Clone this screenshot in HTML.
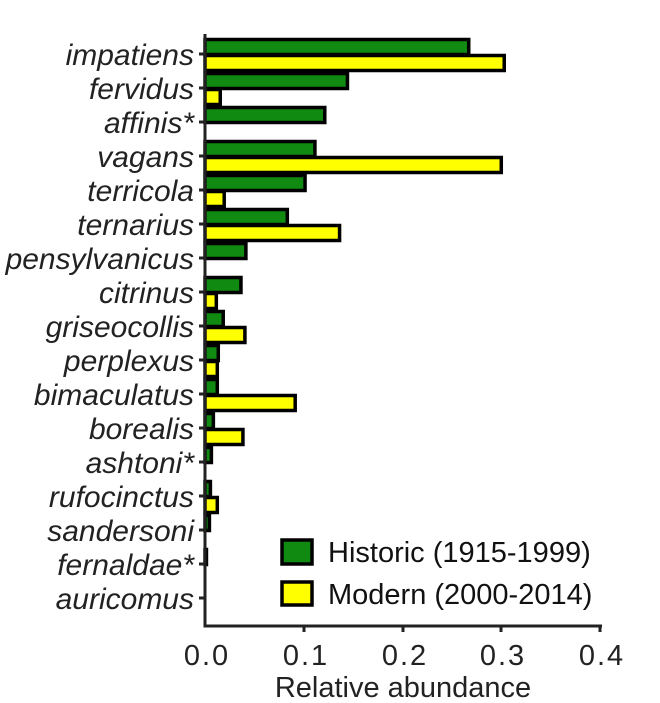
<!DOCTYPE html>
<html><head><meta charset="utf-8"><style>body{margin:0;background:#fff}svg{display:block}</style></head>
<body>
<svg width="660" height="703" xmlns="http://www.w3.org/2000/svg" font-family="Liberation Sans, Arial, sans-serif">
<g id="bars" stroke="#000" stroke-width="3.5"></g>
<g id="labels" font-size="30" font-style="italic" fill="#222" text-anchor="end"></g>
<g stroke="#222" stroke-width="3">
<line x1="205" y1="34" x2="205" y2="627"/>
<line x1="203.5" y1="626" x2="602" y2="626"/>
<g id="ticks"></g>
</g>
<g font-size="29" fill="#222" text-anchor="middle">
<text x="207" y="665" letter-spacing="2">0.0</text><text x="306" y="665" letter-spacing="2">0.1</text><text x="405" y="665" letter-spacing="2">0.2</text><text x="503" y="665" letter-spacing="2">0.3</text><text x="602" y="665" letter-spacing="2">0.4</text>
<text x="403" y="697">Relative abundance</text>
</g>
<rect x="282" y="540" width="30" height="24" fill="#118a11" stroke="#000" stroke-width="3.5"/>
<rect x="282" y="582" width="30" height="23" fill="#ffff00" stroke="#000" stroke-width="3.5"/>
<g font-size="29" fill="#111"><text x="328" y="562">Historic (1915-1999)</text><text x="328" y="604">Modern (2000-2014)</text></g>
<script>
var d=[["impatiens",.269,.305],["fervidus",.146,.017],["affinis*",.123,0],["vagans",.113,.302],["terricola",.103,.021],["ternarius",.085,.138],["pensylvanicus",.043,0],["citrinus",.038,.013],["griseocollis",.02,.042],["perplexus",.015,.014],["bimaculatus",.014,.093],["borealis",.01,.04],["ashtoni*",.008,0],["rufocinctus",.007,.014],["sandersoni",.006,0],["fernaldae*",.003,0],["auricomus",0,0]];
var ns="http://www.w3.org/2000/svg",b=document.getElementById("bars"),l=document.getElementById("labels"),t=document.getElementById("ticks");
function el(p,n,a){var e=document.createElementNS(ns,n);for(var k in a)e.setAttribute(k,a[k]);p.appendChild(e);return e;}
d.forEach(function(r,i){var y=55+i*34;
var tx=el(l,"text",{x:194,y:y+10});tx.textContent=r[0];
el(t,"line",{x1:199,y1:y-1,x2:205,y2:y-1});
if(r[1]>0)el(b,"rect",{x:205,y:y-15.5,width:Math.max(r[1]*986-1.5,1),height:15,fill:"#118a11"});
if(r[2]>0)el(b,"rect",{x:205,y:y+0.5,width:Math.max(r[2]*986-1.5,1),height:15,fill:"#ffff00"});
});
[304,403,501,600].forEach(function(x){el(t,"line",{x1:x,y1:626,x2:x,y2:632});});
</script>
</svg>
</body></html>
